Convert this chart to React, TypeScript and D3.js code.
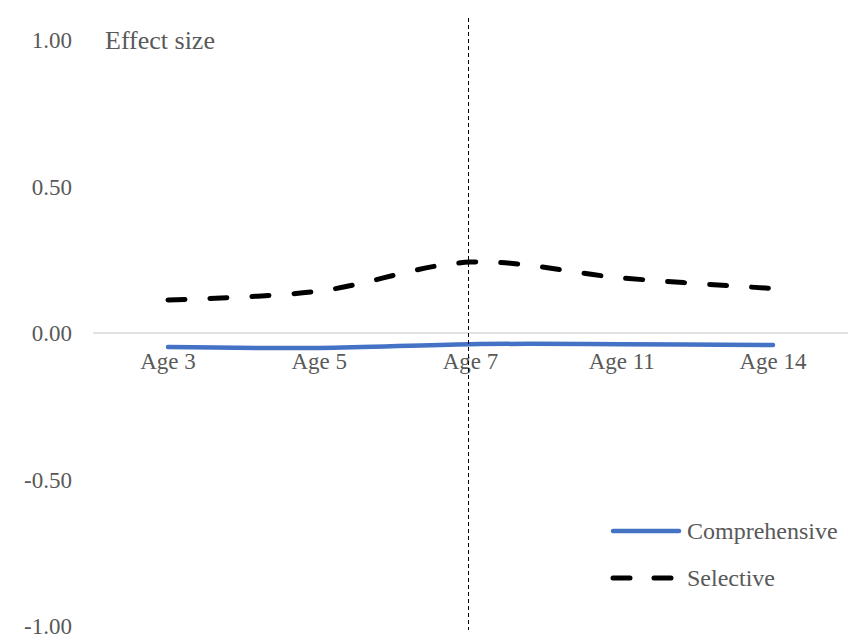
import React from "react";
import * as d3 from "d3";

const categories = ["Age 3", "Age 5", "Age 7", "Age 11", "Age 14"];
const comprehensive = [-0.048, -0.051, -0.038, -0.038, -0.041];
const selective = [0.113, 0.143, 0.242, 0.188, 0.152];
const yTicks = [-1, -0.5, 0, 0.5, 1];
const markerCategory = "Age 7";

const W = 848;
const H = 640;
const FONT = "'Liberation Serif', 'Times New Roman', serif";
const TEXT = "#595959";

export default function App() {
  const x = d3.scalePoint<string>().domain(categories).range([168, 773]);
  const y = d3.scaleLinear().domain([-1, 1]).range([626, 40]);
  const line = d3
    .line<number>()
    .x((_, i) => x(categories[i]) as number)
    .y((d) => y(d))
    .curve(d3.curveCatmullRom.alpha(0.5));

  const mx = (x(markerCategory) as number) - 2;
  const fmt = (t: number) => d3.format(".2f")(t).replace("\u2212", "-");

  return (
    <svg
      width={W}
      height={H}
      style={{ position: "absolute", left: 0, top: 0, background: "#fff" }}
      fontFamily={FONT}
    >
      <line x1={93} x2={848} y1={y(0)} y2={y(0)} stroke="#d9d9d9" strokeWidth={1.5} />
      {yTicks.map((t) => (
        <text
          key={t}
          x={72}
          y={y(t)}
          dy="0.35em"
          textAnchor="end"
          fontSize={23}
          fill={TEXT}
        >
          {fmt(t)}
        </text>
      ))}
      <text x={105} y={y(1)} dy="0.35em" fontSize={26} fill={TEXT}>
        Effect size
      </text>
      {categories.map((c) => (
        <text
          key={c}
          x={x(c) as number}
          y={369}
          textAnchor="middle"
          fontSize={23}
          fill={TEXT}
        >
          {c}
        </text>
      ))}
      <path
        d={line(comprehensive) as string}
        fill="none"
        stroke="#4472C4"
        strokeWidth={4.5}
        strokeLinecap="round"
      />
      <path
        d={line(selective) as string}
        fill="none"
        stroke="#000"
        strokeWidth={5}
        strokeLinecap="round"
        strokeDasharray="17,25"
      />
      <line
        x1={mx}
        x2={mx}
        y1={18}
        y2={630}
        stroke="#000"
        strokeWidth={1}
        strokeDasharray="4,3"
      />
      <g>
        <line x1={613} x2={679} y1={531} y2={531} stroke="#4472C4" strokeWidth={4.5} strokeLinecap="round" />
        <text x={687} y={531} dy="0.35em" fontSize={24} fill={TEXT}>
          Comprehensive
        </text>
        <line
          x1={613}
          x2={679}
          y1={578}
          y2={578}
          stroke="#000"
          strokeWidth={5}
          strokeLinecap="round"
          strokeDasharray="17,24"
        />
        <text x={687} y={578} dy="0.35em" fontSize={24} fill={TEXT}>
          Selective
        </text>
      </g>
    </svg>
  );
}
